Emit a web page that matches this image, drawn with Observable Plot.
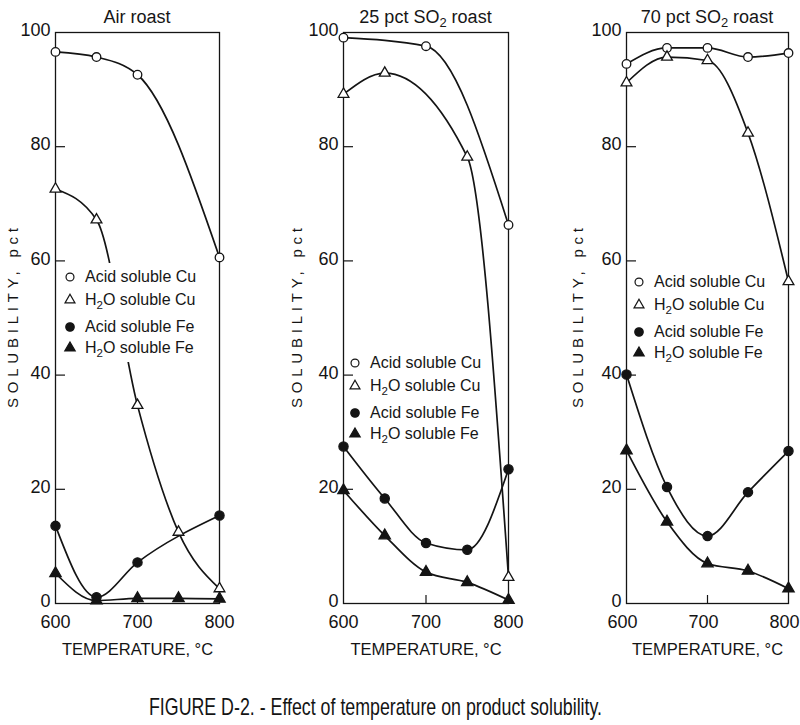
<!DOCTYPE html>
<html>
<head>
<meta charset="utf-8">
<script src="https://cdn.jsdelivr.net/npm/d3@7"></script>
<script src="https://cdn.jsdelivr.net/npm/@observablehq/plot@0.6"></script>
<style>
  html, body { margin: 0; padding: 0; background: #fff; }
  #fig { position: relative; width: 800px; height: 725px; overflow: hidden;
         font-family: "Liberation Sans", Arial, sans-serif; color: #161616; }
  .panel { position: absolute; top: 0; }
  .title { position: absolute; top: 8px; font-size: 18px; line-height: 18px; white-space: nowrap; transform: translateX(-50%); }
  .legbg { position: absolute; background: #fff; }
  .legtxt { position: absolute; font-size: 16px; line-height: 16px; white-space: nowrap; }
  .legsym { position: absolute; overflow: visible; }
  sub { font-size: 0.72em; line-height: 0; vertical-align: -0.32em; }
  #caption { position: absolute; left: 0; top: 680px; }
</style>
</head>
<body>
<div id="fig"></div>
<script>
// ---------- data ----------
const temps = [600, 650, 700, 750, 800];
const titles = ["Air roast", "25 pct SO2 roast", "70 pct SO2 roast"];
const seriesNames = ["Acid soluble Cu", "H2O soluble Cu", "Acid soluble Fe", "H2O soluble Fe"];
const xTicks = [600, 700, 800];
const yTicks = [0, 20, 40, 60, 80, 100];
const yInnerTicks = [20, 40, 60, 80];
const xInnerTicks = [700];
const xLabel = "TEMPERATURE, °C";
const yLabel = "SOLUBILITY, pct";
const captionText = "FIGURE D-2. - Effect of temperature on product solubility.";

// Air roast
const airAcidCu  = [96.6, 95.7, 92.6, null, 60.6];
const airWaterCu = [72.6, 67.2, 34.7, 12.5, 2.6];
const airAcidFe  = [13.6, 1.1, 7.2, null, 15.4];
const airWaterFe = [5.3, 0.5, 0.9, 0.9, 0.8];
// 25 pct SO2 roast
const so25AcidCu  = [99.1, null, 97.6, null, 66.3];
const so25WaterCu = [89.2, 92.9, null, 78.2, 4.6];
const so25AcidFe  = [27.5, 18.4, 10.6, 9.4, 23.5];
const so25WaterFe = [19.8, 11.9, 5.5, 3.7, 0.6];
// 70 pct SO2 roast
const so70AcidCu  = [94.5, 97.3, 97.3, 95.7, 96.4];
const so70WaterCu = [91.2, 95.7, 95.1, 82.4, 56.4];
const so70AcidFe  = [40.1, 20.4, 11.8, 19.5, 26.7];
const so70WaterFe = [26.8, 14.3, 7.0, 5.7, 2.6];

const panelSeries = [
  [airAcidCu, airWaterCu, airAcidFe, airWaterFe],
  [so25AcidCu, so25WaterCu, so25AcidFe, so25WaterFe],
  [so70AcidCu, so70WaterCu, so70AcidFe, so70WaterFe]
];

// ---------- styles & layout ----------
const INK = "#141414";
const markStyles = [
  {symbol: "circle",   fill: "white", r: 4.3},
  {symbol: "triangle", fill: "white", r: 4.0},
  {symbol: "circle",   fill: INK,     r: 4.6},
  {symbol: "triangle", fill: INK,     r: 4.2}
];
const layout = [
  {left: 0,   marginLeft: 55, plotW: 164, yLabelOffset: 48.5, xdx: 0,  legX: 70, legY: 277, legBg: true},
  {left: 270, marginLeft: 73, plotW: 165, yLabelOffset: 52.5, xdx: 0,  legX: 85, legY: 363, legBg: false},
  {left: 550, marginLeft: 76, plotW: 162, yLabelOffset: 54.5, xdx: -4, legX: 89, legY: 282, legBg: false}
];
const legRowOffsets = [0, 23, 50, 71];
const H = 675, MT = 32, MB = 72, MR = 12;
const plotH = H - MT - MB;

const sub2 = s => s.replace(/(H|SO)2/g, "$1<sub>2</sub>");

const fig = document.getElementById("fig");

layout.forEach((L, i) => {
  const rows = [];
  panelSeries[i].forEach((vals, s) => {
    temps.forEach((t, k) => { if (vals[k] != null) rows.push({t, v: vals[k], s}); });
  });

  const marks = [
    Plot.frame({stroke: INK, strokeWidth: 1.3}),
    Plot.tickY(yInnerTicks, {y: d => d, insetRight: L.plotW - 10, stroke: INK, strokeWidth: 1.2}),
    Plot.tickX(xInnerTicks, {x: d => d, insetTop: plotH - 8, stroke: INK, strokeWidth: 1.2}),
    Plot.axisY({ticks: yTicks, tickSize: 0, tickPadding: 5, fontSize: 18, dy: -2,
      label: yLabel, labelAnchor: "center", labelArrow: "none", labelOffset: L.yLabelOffset}),
    Plot.axisX({ticks: xTicks, tickSize: 0, tickPadding: 12, fontSize: 18, dx: L.xdx,
      label: xLabel, labelAnchor: "center", labelArrow: "none", labelOffset: 51})
  ];
  for (let s = 0; s < 4; s++) {
    marks.push(Plot.line(rows.filter(r => r.s === s),
      {x: "t", y: "v", curve: "monotone-x", stroke: INK, strokeWidth: 1.7}));
  }
  for (let s = 0; s < 4; s++) {
    const st = markStyles[s];
    marks.push(Plot.dot(rows.filter(r => r.s === s),
      {x: "t", y: "v", symbol: st.symbol, r: st.r, fill: st.fill, stroke: INK, strokeWidth: 1.3}));
  }

  const svg = Plot.plot({
    width: L.marginLeft + L.plotW + MR,
    height: H,
    marginLeft: L.marginLeft, marginRight: MR, marginTop: MT, marginBottom: MB,
    x: {domain: [600, 800]},
    y: {domain: [0, 100]},
    style: {fontFamily: "Liberation Sans, Arial, sans-serif", color: INK, background: "transparent", overflow: "visible"},
    marks
  });

  // tune axis label sizes to match the lettering of the original
  const xl = svg.querySelector('[aria-label="x-axis label"] text');
  if (xl) { xl.setAttribute("font-size", 16.5); }
  const yl = svg.querySelector('[aria-label="y-axis label"] text');
  if (yl) { yl.setAttribute("font-size", 15); yl.setAttribute("textLength", 180); yl.setAttribute("lengthAdjust", "spacing"); }

  const div = document.createElement("div");
  div.className = "panel";
  div.style.left = L.left + "px";
  div.appendChild(svg);

  // title
  const t = document.createElement("div");
  t.className = "title";
  t.style.left = (L.marginLeft + L.plotW / 2) + "px";
  t.innerHTML = sub2(titles[i]);
  div.appendChild(t);

  // legend
  if (L.legBg) {
    const bg = document.createElement("div");
    bg.className = "legbg";
    bg.style.left = (L.legX - 10) + "px";
    bg.style.top = (L.legY - 14) + "px";
    bg.style.width = "146px";
    bg.style.height = "99px";
    div.appendChild(bg);
  }
  seriesNames.forEach((name, s) => {
    const y = L.legY + legRowOffsets[s];
    const st = markStyles[s];
    const ns = "http://www.w3.org/2000/svg";
    const sv = document.createElementNS(ns, "svg");
    sv.setAttribute("class", "legsym");
    sv.setAttribute("width", 14); sv.setAttribute("height", 14);
    sv.style.left = (L.legX - 7) + "px";
    sv.style.top = (y - 7) + "px";
    const p = document.createElementNS(ns, "path");
    const sym = st.symbol === "triangle" ? d3.symbolTriangle : d3.symbolCircle;
    p.setAttribute("d", d3.symbol(sym, Math.PI * st.r * st.r * 0.85)());
    p.setAttribute("transform", "translate(7,7)");
    p.setAttribute("fill", st.fill);
    p.setAttribute("stroke", INK);
    p.setAttribute("stroke-width", 1.2);
    sv.appendChild(p);
    div.appendChild(sv);
    const tx = document.createElement("div");
    tx.className = "legtxt";
    tx.style.left = (L.legX + 15) + "px";
    tx.style.top = (y - 8) + "px";
    tx.innerHTML = sub2(name);
    div.appendChild(tx);
  });

  fig.appendChild(div);
});

// caption
const ns = "http://www.w3.org/2000/svg";
const cap = document.createElementNS(ns, "svg");
cap.setAttribute("id", "caption");
cap.setAttribute("width", 800); cap.setAttribute("height", 45);
const ct = document.createElementNS(ns, "text");
ct.setAttribute("x", 149); ct.setAttribute("y", 35);
ct.setAttribute("font-size", 24);
ct.setAttribute("font-family", "Liberation Sans Narrow, Liberation Sans, Arial, sans-serif");
ct.setAttribute("fill", INK);
ct.setAttribute("textLength", 453);
ct.setAttribute("lengthAdjust", "spacingAndGlyphs");
ct.textContent = captionText;
cap.appendChild(ct);
fig.appendChild(cap);
</script>
</body>
</html>
